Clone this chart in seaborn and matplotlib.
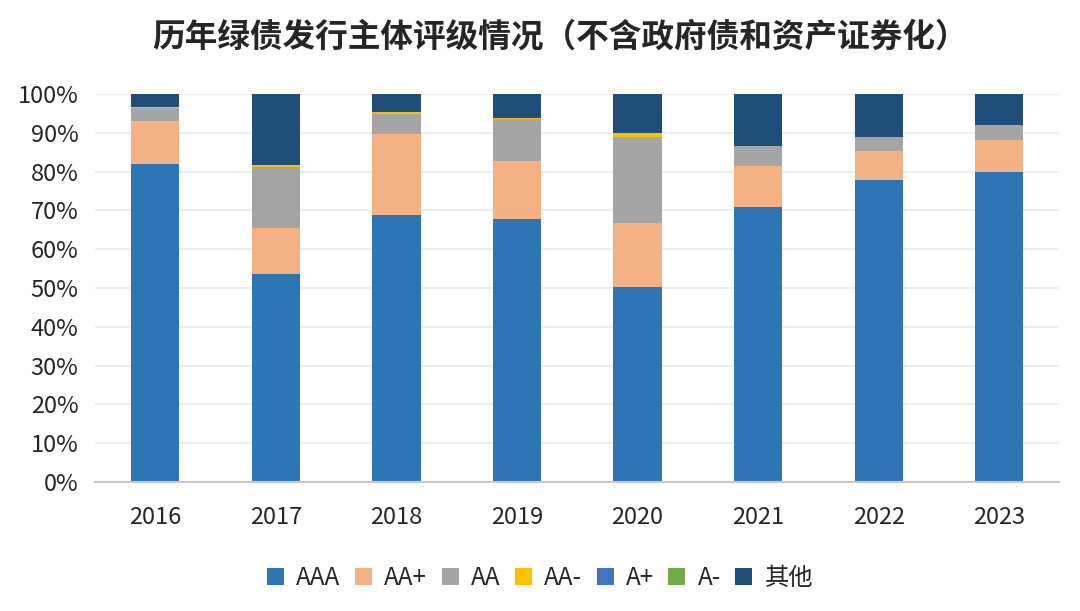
import numpy as np
import pandas as pd
import matplotlib
matplotlib.use("Agg")
import matplotlib.pyplot as plt
from matplotlib.patches import Patch
import seaborn as sns

# 年份与各评级占比（%）
years = ['2016', '2017', '2018', '2019', '2020', '2021', '2022', '2023']
ratings = ['AAA', 'AA+', 'AA', 'AA-', 'A+', 'A-', '其他']
aaa = [82.0, 53.6, 68.8, 67.8, 50.4, 71.0, 77.9, 79.8]
aa_plus = [11.0, 11.9, 20.8, 14.9, 16.4, 10.4, 7.5, 8.3]
aa = [3.5, 15.8, 5.2, 10.9, 22.2, 5.1, 3.6, 4.0]
aa_minus = [0.3, 0.3, 0.7, 0.2, 1.0, 0.0, 0.0, 0.0]
a_plus = [0.0, 0.0, 0.0, 0.0, 0.0, 0.0, 0.0, 0.0]
a_minus = [0.0, 0.0, 0.0, 0.0, 0.0, 0.0, 0.0, 0.0]
others = [3.2, 18.4, 4.5, 6.2, 10.0, 13.5, 11.0, 7.9]

colors = ['#2E75B6', '#F4B183', '#A5A5A5', '#FFC000', '#4472C4', '#70AD47', '#1F4E79']

sns.set_theme(style='white')
plt.rcParams['font.family'] = ['Noto Sans CJK SC', 'DejaVu Sans']

df = pd.DataFrame({'year': years, 'AAA': aaa, 'AA+': aa_plus, 'AA': aa,
                   'AA-': aa_minus, 'A+': a_plus, 'A-': a_minus, '其他': others})
cum = df[ratings].cumsum(axis=1)
cum['year'] = df['year']

fig = plt.figure(figsize=(10.8, 6.11), dpi=100)
ax = fig.add_axes([0.088, 0.211, 0.893, 0.635])

# 从最上层开始画累计值，形成堆叠柱
for r, c in zip(reversed(ratings), reversed(colors)):
    sns.barplot(data=cum, x='year', y=r, color=c, width=0.4, ax=ax,
                saturation=1, edgecolor='none', linewidth=0)

ax.set_ylim(0, 100)
ax.set_yticks(np.arange(0, 101, 10))
ax.set_yticklabels([f'{v}%' for v in range(0, 101, 10)], fontsize=17)
ax.tick_params(axis='x', labelsize=17, pad=11)
ax.tick_params(axis='y', pad=6)
ax.set_xlabel('')
ax.set_ylabel('')
ax.yaxis.grid(True, color='#EDEDED', linewidth=1.5)
ax.set_axisbelow(True)
for s in ['top', 'right', 'left']:
    ax.spines[s].set_visible(False)
ax.spines['bottom'].set_color('#C8C8C8')
ax.spines['bottom'].set_linewidth(1.5)
ax.set_xlim(-0.5, 7.5)

fig.text(0.519, 0.94, '历年绿债发行主体评级情况（不含政府债和资产证券化）',
         ha='center', va='center', fontsize=23.5, fontweight='bold')

handles = [Patch(facecolor=c, edgecolor='none', label=r) for r, c in zip(ratings, colors)]
fig.legend(handles=handles, loc='center', bbox_to_anchor=(0.5, 0.054), ncol=7,
           frameon=False, fontsize=17.5, handlelength=0.7, handleheight=0.7,
           handletextpad=0.5, columnspacing=0.6)

fig.savefig('out.png', dpi=100)
